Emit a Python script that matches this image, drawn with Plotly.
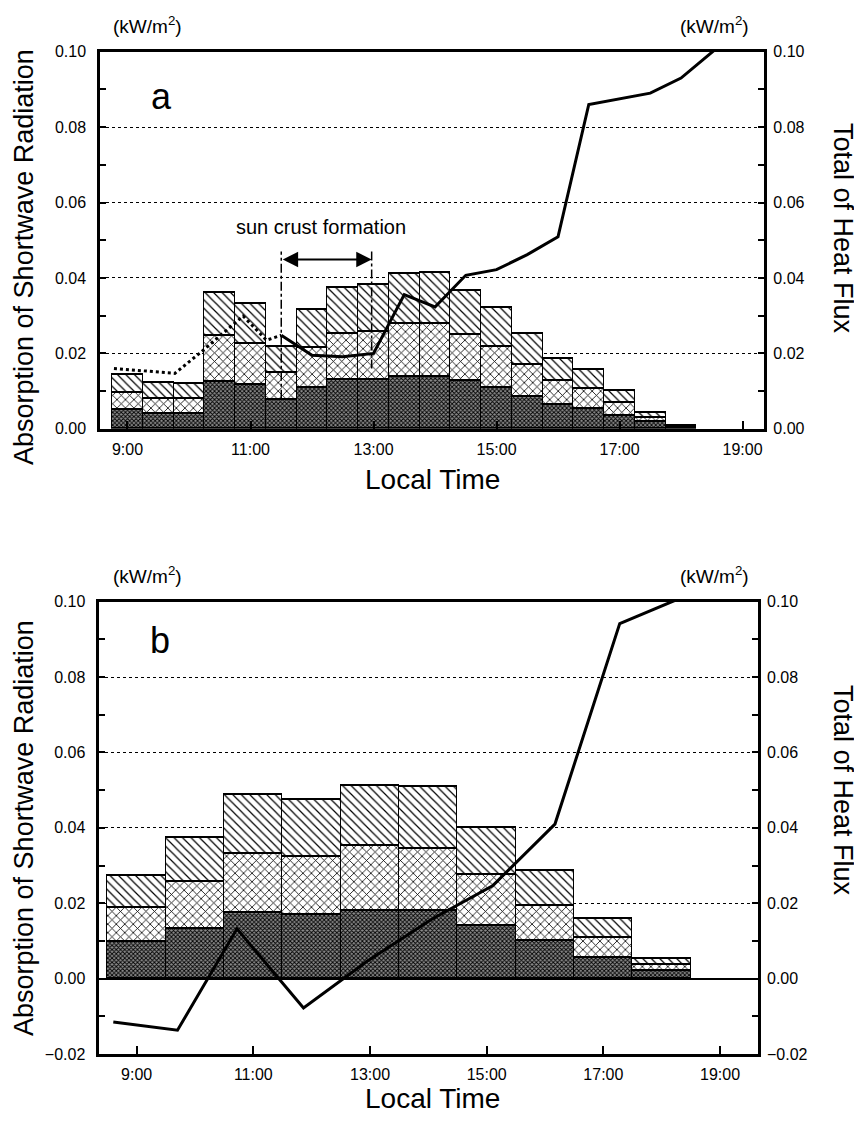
import plotly.graph_objects as go

# reference canvas and page offset (the page body adds an 8 px margin)
REF_W, REF_H = 862, 1122
OFF = 8
W, H = REF_W - OFF, REF_H - OFF
FONT = "Liberation Sans, Arial, Helvetica, sans-serif"

# ---------------- data: panel a ----------------
time_a = [9.0, 9.5, 10.0, 10.5, 11.0, 11.5, 12.0, 12.5, 13.0, 13.5,
          14.0, 14.5, 15.0, 15.5, 16.0, 16.5, 17.0, 17.5, 18.0]
dark_a = [0.0050, 0.0041, 0.0041, 0.0125, 0.0116, 0.0076, 0.0110, 0.0129, 0.0131, 0.0138,
          0.0138, 0.0127, 0.0110, 0.0085, 0.0063, 0.0054, 0.0034, 0.0019, 0.0004]
cross_a = [0.0046, 0.0040, 0.0038, 0.0121, 0.0109, 0.0073, 0.0106, 0.0124, 0.0126, 0.0142,
           0.0142, 0.0122, 0.0109, 0.0086, 0.0064, 0.0053, 0.0035, 0.0011, 0.0002]
diag_a = [0.0048, 0.0040, 0.0041, 0.0116, 0.0108, 0.0070, 0.0101, 0.0122, 0.0124, 0.0132,
          0.0135, 0.0117, 0.0102, 0.0080, 0.0058, 0.0051, 0.0031, 0.0014, 0.0002]

flux_dot_t = [8.78, 9.77, 10.17, 10.88, 11.26, 11.5]
flux_dot_v = [0.0160, 0.0147, 0.0200, 0.0299, 0.0235, 0.0248]
flux_a_t = [11.5, 12.0, 12.5, 13.0, 13.5, 14.0, 14.5, 15.0, 15.5, 16.0,
            16.5, 17.0, 17.5, 18.0, 18.55]
flux_a_v = [0.0248, 0.0195, 0.0191, 0.0200, 0.0356, 0.0323, 0.0407, 0.0422, 0.0462, 0.0509,
            0.0860, 0.0875, 0.0890, 0.0930, 0.1005]

# ---------------- data: panel b ----------------
time_b = [9, 10, 11, 12, 13, 14, 15, 16, 17, 18]
dark_b = [0.0097, 0.0132, 0.0174, 0.0169, 0.0180, 0.0180, 0.0141, 0.0100, 0.0056, 0.0021]
cross_b = [0.0091, 0.0125, 0.0158, 0.0154, 0.0172, 0.0166, 0.0134, 0.0094, 0.0053, 0.0016]
diag_b = [0.0085, 0.0117, 0.0155, 0.0151, 0.0161, 0.0163, 0.0125, 0.0092, 0.0049, 0.0015]

flux_b_t = [8.6, 9.7, 10.72, 11.86, 12.95, 14.05, 15.1, 16.17, 17.28, 18.25]
flux_b_v = [-0.0115, -0.0137, 0.0132, -0.0078, 0.0046, 0.0157, 0.0246, 0.0410, 0.0942, 0.1005]

tick_hours = [9, 11, 13, 15, 17, 19]
tick_labels = ["9:00", "11:00", "13:00", "15:00", "17:00", "19:00"]

fig = go.Figure()

def add_stack(x, dark, cross, diag, width, xa, ya):
    line = dict(color="black", width=1.3)
    fig.add_trace(go.Bar(
        x=x, y=dark, width=width, xaxis=xa, yaxis=ya, showlegend=False,
        marker=dict(color="#6a6a6a", line=line,
                    pattern=dict(shape="x", size=3, solidity=0.5, fgcolor="#000000",
                                 bgcolor="#8c8c8c", fillmode="replace"))))
    fig.add_trace(go.Bar(
        x=x, y=cross, width=width, xaxis=xa, yaxis=ya, showlegend=False,
        marker=dict(color="white", line=line,
                    pattern=dict(shape="x", size=6, solidity=0.25, fgcolor="black",
                                 bgcolor="white", fillmode="replace"))))
    fig.add_trace(go.Bar(
        x=x, y=diag, width=width, xaxis=xa, yaxis=ya, showlegend=False,
        marker=dict(color="white", line=line,
                    pattern=dict(shape="\\", size=6, solidity=0.2, fgcolor="black",
                                 bgcolor="white", fillmode="replace"))))

add_stack(time_a, dark_a, cross_a, diag_a, 0.5, "x", "y")
add_stack(time_b, dark_b, cross_b, diag_b, 1.0, "x2", "y2")

fig.add_trace(go.Scatter(x=flux_dot_t, y=flux_dot_v, xaxis="x", yaxis="y", mode="lines",
                         line=dict(color="black", width=3, dash="dot"), showlegend=False))
fig.add_trace(go.Scatter(x=flux_a_t, y=flux_a_v, xaxis="x", yaxis="y", mode="lines",
                         line=dict(color="black", width=3), showlegend=False))
fig.add_trace(go.Scatter(x=flux_b_t, y=flux_b_v, xaxis="x2", yaxis="y2", mode="lines",
                         line=dict(color="black", width=3), showlegend=False))

def px_x(x):
    return (x - OFF) / W

def px_y(y):
    return 1 - (y - OFF) / H

tickfont = dict(family=FONT, size=16, color="black")

def xaxis_cfg(domain, rng, anchor):
    return dict(domain=domain, range=rng, anchor=anchor, tickvals=tick_hours, ticktext=tick_labels,
                ticks="inside", ticklen=8, tickwidth=1.5, tickcolor="black",
                showline=True, linewidth=2.5, linecolor="black", mirror=True,
                showgrid=False, zeroline=False, tickfont=tickfont, ticklabelstandoff=4,
                layer="above traces", automargin=False)

def yaxis_cfg(domain, rng, anchor, side="left", overlay=None):
    d = dict(range=rng, anchor=anchor, side=side, dtick=0.02, tick0=0, tickformat=".2f",
             ticks="inside", ticklen=6, tickwidth=1.5, tickcolor="black",
             minor=dict(dtick=0.01, tick0=0, ticks="inside", ticklen=6, tickwidth=1.5,
                        tickcolor="black", showgrid=False),
             tickfont=tickfont, ticklabelstandoff=8, automargin=False)
    if overlay:
        d.update(overlaying=overlay, showgrid=False, showline=False, zeroline=False)
    else:
        d.update(domain=domain, showgrid=True, griddash="dot", gridcolor="black", gridwidth=1,
                 showline=True, linewidth=2.5, linecolor="black", mirror=True,
                 layer="above traces")
    return d

dom_ax = [px_x(100), px_x(764.3)]
dom_ay = [px_y(428.8), px_y(51.7)]
dom_bx = [px_x(99.3), px_x(758)]
dom_by = [px_y(1054), px_y(601.7)]

ya = yaxis_cfg(dom_ay, [0, 0.1], "x")
ya.update(zeroline=False)
yb = yaxis_cfg(dom_by, [-0.02, 0.1], "x2")
yb.update(zeroline=True, zerolinecolor="black", zerolinewidth=1.8)

fig.update_layout(
    width=W, height=H, margin=dict(l=0, r=0, t=0, b=0, autoexpand=False),
    paper_bgcolor="white", plot_bgcolor="white", barmode="stack", bargap=0,
    showlegend=False, font=dict(family=FONT, color="black"),
    xaxis=xaxis_cfg(dom_ax, [8.553, 19.354], "y"),
    yaxis=ya,
    yaxis3=yaxis_cfg(None, [0, 0.1], "x", side="right", overlay="y"),
    xaxis2=xaxis_cfg(dom_bx, [8.36, 19.65], "y2"),
    yaxis2=yb,
    yaxis4=yaxis_cfg(None, [-0.02, 0.1], "x2", side="right", overlay="y2"),
)

# dummy traces so the overlay axes render
fig.add_trace(go.Scatter(x=[None], y=[None], xaxis="x", yaxis="y3", showlegend=False))
fig.add_trace(go.Scatter(x=[None], y=[None], xaxis="x2", yaxis="y4", showlegend=False))

# sun crust formation markers (panel a)
fig.add_shape(type="line", xref="x", yref="y", x0=11.5, x1=11.5, y0=0.008, y1=0.047,
              line=dict(color="black", width=1.5, dash="dashdot"))
fig.add_shape(type="line", xref="x", yref="y", x0=12.97, x1=12.97, y0=0.016, y1=0.047,
              line=dict(color="black", width=1.5, dash="dashdot"))
fig.add_annotation(x=12.97, y=0.0449, ax=11.5, ay=0.0449, xref="x", yref="y",
                   axref="x", ayref="y", text="", showarrow=True, arrowhead=2,
                   arrowside="end+start", arrowsize=1.4, arrowwidth=2.2, arrowcolor="black")
fig.add_annotation(x=12.15, y=0.0534, xref="x", yref="y", text="sun crust formation",
                   showarrow=False, font=dict(family=FONT, size=20, color="black"))

fig.add_annotation(x=9.55, y=0.0882, xref="x", yref="y", text="a", showarrow=False,
                   font=dict(family=FONT, size=36, color="black"))
fig.add_annotation(x=9.4, y=0.0897, xref="x2", yref="y2", text="b", showarrow=False,
                   font=dict(family=FONT, size=36, color="black"))

def paper_text(text, x, y, size, angle=0):
    fig.add_annotation(x=px_x(x), y=px_y(y), xref="paper", yref="paper", text=text,
                       showarrow=False, textangle=angle, xanchor="center", yanchor="middle",
                       font=dict(family=FONT, size=size, color="black"))

unit = "(kW/m<sup>2</sup>)"
for top in (25, 575):
    paper_text(unit, 147, top, 19)
    paper_text(unit, 714, top, 19)

paper_text("Local Time", 432, 479, 28)
paper_text("Local Time", 432, 1098, 28)
paper_text("Absorption of Shortwave Radiation", 24, 257, 27, -90)
paper_text("Absorption of Shortwave Radiation", 24, 828, 27, -90)
paper_text("Total of Heat Flux", 843, 228, 27, 90)
paper_text("Total of Heat Flux", 843, 790, 27, 90)

fig.write_html("out.html")
